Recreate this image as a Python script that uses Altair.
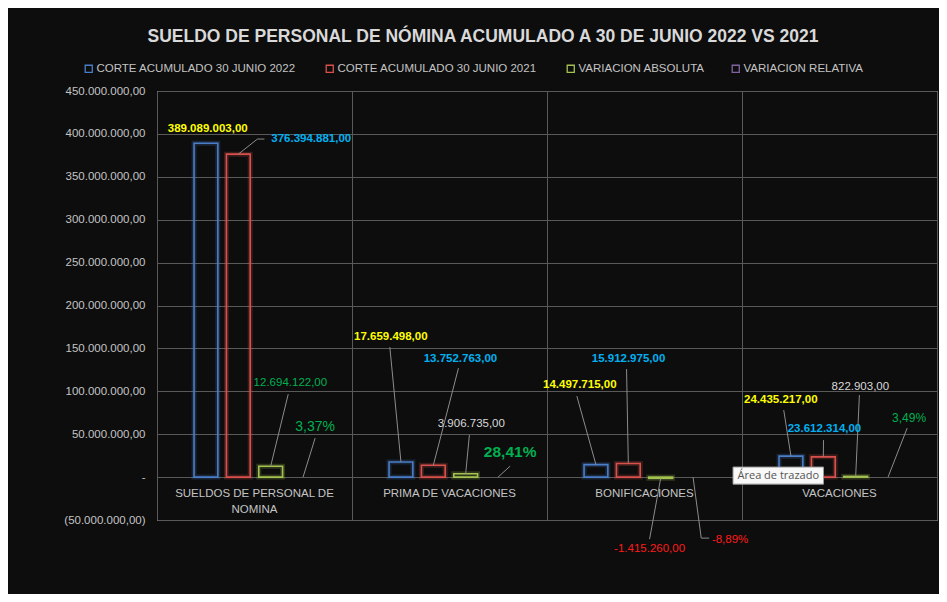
import altair as alt
import pandas as pd

# ---------------- data ----------------
categories = ["SUELDOS DE PERSONAL DE NOMINA", "PRIMA DE VACACIONES", "BONIFICACIONES", "VACACIONES"]
category_display = ["SUELDOS DE PERSONAL DE\nNOMINA", "PRIMA DE VACACIONES", "BONIFICACIONES", "VACACIONES"]
series = ["CORTE ACUMULADO  30 JUNIO 2022", "CORTE ACUMULADO  30 JUNIO 2021",
          "VARIACION ABSOLUTA", "VARIACION RELATIVA"]
corte_2022 = [389089003.00, 17659498.00, 14497715.00, 24435217.00]
corte_2021 = [376394881.00, 13752763.00, 15912975.00, 23612314.00]
variacion_abs = [12694122.00, 3906735.00, -1415260.00, 822903.00]
variacion_rel = [0.0337, 0.2841, -0.0889, 0.0349]
y_ticks = [-50e6, 0, 50e6, 100e6, 150e6, 200e6, 250e6, 300e6, 350e6, 400e6, 450e6]

# ---------------- styling / layout ----------------
BG = "#0d0d0d"
GRID = "#595959"
AXIS_TXT = "#c4c4c4"
FONT = "Liberation Sans, Arial, sans-serif"
series_colors = ["#4a7ec9", "#d9504c", "#a3c24f", "#8064a2"]
SLOT = 0.166      # slot step inside a category (category units)
HALF = 0.061      # half bar width (category units)

label_color = {0: "#ffff00", 1: "#00b0f0"}
abs_colors = ["#00b050", "#d9d9d9", "#ff1a1a", "#d9d9d9"]
abs_sizes = [11.5, 11.5, 11.5, 11.5]
rel_colors = ["#00b050", "#00b050", "#ff1a1a", "#00b050"]
rel_sizes = [14, 15.5, 11.5, 12]
rel_bold = [False, True, False, False]

# manual annotation placement (category units, millions): text anchor and leader end point(s)
label_pos = {
    (0, 0): (0.260, 405.6, []),
    (0, 1): (0.791, 394.0, [(0.515, 394.0), (0.551, 394.0)]),
    (0, 2): (0.684, 109.6, [(0.673, 96.7)]),
    (0, 3): (0.811, 58.3, [(0.811, 45.5)]),
    (1, 0): (1.199, 163.2, [(1.194, 151.5)]),
    (1, 1): (1.556, 137.5, [(1.546, 127.0)]),
    (1, 2): (1.612, 61.8, [(1.602, 49.0)]),
    (1, 3): (1.811, 29.1, [(1.811, 12.8)]),
    (2, 0): (2.168, 107.2, [(2.153, 94.4)]),
    (2, 1): (2.418, 137.5, [(2.408, 125.9)]),
    (2, 2): (2.526, -83.9, [(2.526, -72.3)]),
    (2, 3): (2.939, -73.4, [(2.791, -71.1), (2.832, -71.1)]),
    (3, 0): (3.199, 89.7, [(3.214, 78.1)]),
    (3, 1): (3.423, 55.9, [(3.418, 43.1)]),
    (3, 2): (3.607, 104.9, [(3.602, 95.6)]),
    (3, 3): (3.857, 68.8, [(3.847, 57.1)]),
}


def fmt_es(v):
    return f"{v:,.2f}".replace(",", "X").replace(".", ",").replace("X", ".")


def fmt_pct(v):
    return f"{v * 100:.2f}%".replace(".", ",")


values_by_series = [corte_2022, corte_2021, variacion_abs, variacion_rel]

bar_rows, label_rows, leader_rows = [], [], []
for g, cat in enumerate(categories):
    for s, name in enumerate(series):
        v = values_by_series[s][g]
        c = g + 0.5 + (s - 1.5) * SLOT
        if s < 3:  # relative variation (a fraction) has no visible height on this axis
            bar_rows.append({"cat": cat, "serie": name, "x0": c - HALF, "x1": c + HALF, "value": v})
        tx, ty, pts = label_pos[(g, s)]
        if s < 2:
            col, size, bold, txt = label_color[s], 11.5, True, fmt_es(v)
        elif s == 2:
            col, size, bold, txt = abs_colors[g], abs_sizes[g], False, fmt_es(v)
        else:
            col, size, bold, txt = rel_colors[g], rel_sizes[g], rel_bold[g], fmt_pct(v)
        label_rows.append({"x": tx, "y": ty * 1e6, "text": txt, "color": col, "size": size, "bold": bold})
        if pts:
            lid = f"{g}-{s}"
            leader_rows.append({"id": lid, "o": 0, "x": c, "y": v if s < 3 else 0.0})
            for k, (px, py) in enumerate(pts):
                leader_rows.append({"id": lid, "o": k + 1, "x": px, "y": py * 1e6})

bars = pd.DataFrame(bar_rows)
labels = pd.DataFrame(label_rows)
leaders = pd.DataFrame(leader_rows)
cats = pd.DataFrame({"x": [g + 0.5 for g in range(len(categories))], "y": [0.0] * 4, "text": category_display})
tip = pd.DataFrame({"x0": [2.954], "x1": [3.418], "y0": [11.7e6], "y1": [-8.2e6],
                    "xm": [3.186], "ym": [1.75e6], "text": ["Área de trazado"]})

xscale = alt.Scale(domain=[0, 4], nice=False, zero=False)
yscale = alt.Scale(domain=[-50e6, 450e6], nice=False, zero=False)

x_axis = alt.Axis(values=[0, 1, 2, 3, 4], grid=True, labels=False, ticks=False, domain=False,
                  title=None, gridColor=GRID, gridWidth=1)
y_axis = alt.Axis(values=y_ticks, grid=True, ticks=False, domain=False, title=None,
                  gridColor=GRID, gridWidth=1, labelColor=AXIS_TXT, labelFontSize=11.5,
                  labelFont=FONT, labelPadding=12,
                  labelExpr="datum.value == 0 ? '-' : (datum.value < 0 ? '(' + format(-datum.value, ',.2f') + ')' : format(datum.value, ',.2f'))")


def X(field):
    return alt.X(field, scale=xscale, axis=x_axis)


def Y(field):
    return alt.Y(field, scale=yscale, axis=y_axis)


stroke_enc = alt.Stroke("serie:N", scale=alt.Scale(domain=series, range=series_colors),
                        legend=alt.Legend(orient="none", legendX=-74, legendY=-28, direction="horizontal",
                                          title=None, symbolType="square", symbolFillColor="transparent",
                                          symbolStrokeWidth=1.3, symbolSize=50, labelColor=AXIS_TXT,
                                          labelFont=FONT, labelFontSize=11.5, columnPadding=24,
                                          labelOffset=2, labelLimit=0))

base_bar = alt.Chart(bars).encode(
    x=X("x0:Q"), x2="x1:Q",
    y=Y("value:Q"), y2=alt.datum(0),
    stroke=stroke_enc,
)
glow = base_bar.mark_bar(filled=False, strokeWidth=5, strokeOpacity=0.22)
bar = base_bar.mark_bar(filled=False, strokeWidth=1.6)

lead = alt.Chart(leaders).mark_line(color="#8c8c8c", strokeWidth=1).encode(
    x=X("x:Q"), y=Y("y:Q"), detail="id:N", order="o:Q",
)


def text_layer(df, bold):
    return alt.Chart(df).mark_text(font=FONT, fontWeight="bold" if bold else "normal",
                                   align="center", baseline="middle").encode(
        x=X("x:Q"), y=Y("y:Q"),
        text="text:N",
        color=alt.Color("color:N", scale=None),
        size=alt.Size("size:Q", scale=None),
    )


txt_bold = text_layer(labels[labels["bold"]], True)
txt_norm = text_layer(labels[~labels["bold"]], False)

cat_txt = alt.Chart(cats).mark_text(font=FONT, fontSize=11.5, color=AXIS_TXT, align="center",
                                    baseline="top", dy=11, lineBreak="\n", lineHeight=16).encode(
    x=X("x:Q"), y=Y("y:Q"), text="text:N",
)

tip_box = alt.Chart(tip).mark_rect(fill="#f8f8f8", stroke="#9a9a9a", strokeWidth=1).encode(
    x=X("x0:Q"), x2="x1:Q", y=Y("y0:Q"), y2="y1:Q",
)
tip_txt = alt.Chart(tip).mark_text(font="Open Sans, Noto Sans, sans-serif", fontSize=11,
                                   color="#555555", align="center", baseline="middle").encode(
    x=X("xm:Q"), y=Y("ym:Q"), text="text:N",
)

chart = alt.layer(glow, bar, lead, cat_txt, txt_norm, txt_bold, tip_box, tip_txt).properties(
    width=780, height=429,
    padding={"left": 149, "top": 83, "right": 2, "bottom": 74},
    autosize=alt.AutoSizeParams(type="none"),
    background=BG,
    title=alt.TitleParams("SUELDO DE PERSONAL DE NÓMINA ACUMULADO A 30 DE JUNIO 2022 VS 2021",
                          anchor="middle", dx=-64, offset=18, font=FONT, fontSize=17.5,
                          fontWeight="bold", color="#d9d9d9"),
).configure_view(stroke=GRID, strokeWidth=1).configure(
    locale={"number": {"decimal": ",", "thousands": ".", "grouping": [3], "currency": ["$", ""]}}
)

chart.save("out.html", embed_options={"renderer": "svg", "actions": False})
